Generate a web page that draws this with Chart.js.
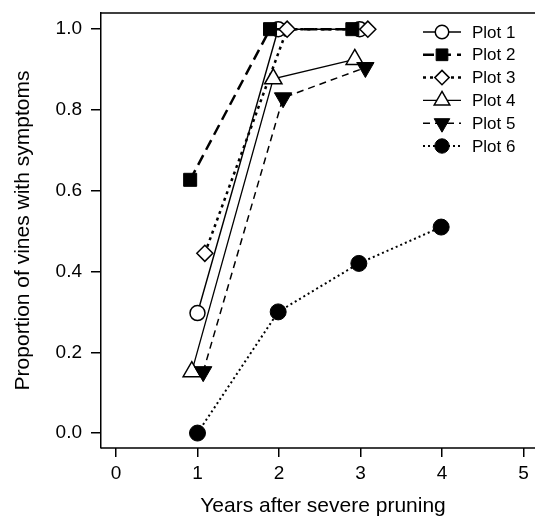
<!DOCTYPE html>
<html>
<head>
<meta charset="utf-8">
<script src="https://cdn.jsdelivr.net/npm/chart.js@4/dist/chart.umd.min.js"></script>
<style>
  body { margin: 0; background: #fff; overflow: hidden; }
  #wrap { width: 535px; height: 519px; overflow: hidden; }
  #myChart { display: block; }
</style>
</head>
<body>
<div id="wrap"><canvas id="myChart" width="545" height="519"></canvas></div>
<script>
// values (x is year, slightly offset per plot as in the figure)
const plotNames = ["Plot 1", "Plot 2", "Plot 3", "Plot 4", "Plot 5", "Plot 6"];
const plot1X = [1.00, 1.99, 2.99];
const plot1Y = [0.297, 1.0, 1.0];
const plot2X = [0.91, 1.89, 2.90];
const plot2Y = [0.627, 1.0, 1.0];
const plot3X = [1.09, 2.10, 3.09];
const plot3Y = [0.445, 1.0, 1.0];
const plot4X = [0.93, 1.93, 2.93];
const plot4Y = [0.152, 0.877, 0.925];
const plot5X = [1.07, 2.05, 3.06];
const plot5Y = [0.152, 0.83, 0.905];
const plot6X = [1.00, 1.99, 2.98, 3.99];
const plot6Y = [0.0, 0.30, 0.42, 0.51];

const xTicks = [0, 1, 2, 3, 4, 5];
const yTicks = [0.0, 0.2, 0.4, 0.6, 0.8, 1.0];

const FONT = "'Liberation Sans', Arial, Helvetica, sans-serif";
Chart.defaults.color = "#000";
Chart.defaults.font.family = FONT;

const toPts = (xs, ys) => xs.map((x, i) => ({ x: x, y: ys[i] }));

// marker + line style per plot
const styles = [
  { style: "circle",   rot: 0,   r: 7.5, fill: "#fff", lw: 1.5, dash: [],      bw: 1.5 },
  { style: "rect",     rot: 0,   r: 9.2, fill: "#000", lw: 2.5, dash: [11, 6], bw: 1 },
  { style: "rectRot",  rot: 0,   r: 8,   fill: "#fff", lw: 2.5, dash: [3, 4],  bw: 1.5 },
  { style: "triangle", rot: 0,   r: 10,  fill: "#fff", lw: 1.3, dash: [],      bw: 1.5 },
  { style: "triangle", rot: 180, r: 10,  fill: "#000", lw: 1.5, dash: [7, 5],  bw: 1 },
  { style: "circle",   rot: 0,   r: 8,   fill: "#000", lw: 2,   dash: [2, 3],  bw: 1 },
];

const allX = [plot1X, plot2X, plot3X, plot4X, plot5X, plot6X];
const allY = [plot1Y, plot2Y, plot3Y, plot4Y, plot5Y, plot6Y];

const datasets = plotNames.map((name, i) => {
  const s = styles[i];
  return {
    label: name,
    data: toPts(allX[i], allY[i]),
    showLine: true,
    borderColor: "#000",
    borderWidth: s.lw,
    borderDash: s.dash,
    backgroundColor: s.fill,
    pointStyle: s.style,
    pointRotation: s.rot,
    pointRadius: s.r,
    pointBorderWidth: s.bw,
    pointBackgroundColor: s.fill,
    pointBorderColor: "#000",
    order: plotNames.length - i,
  };
});

// top and bottom lines of the plot box; the box runs off the right edge of the window
const boxLines = {
  id: "boxLines",
  afterDraw(chart) {
    const { ctx, chartArea: { top, bottom, left, right } } = chart;
    ctx.save();
    ctx.strokeStyle = "#000";
    ctx.lineWidth = 1.5;
    ctx.setLineDash([]);
    ctx.beginPath();
    ctx.moveTo(left, top);
    ctx.lineTo(right, top);
    ctx.moveTo(left, bottom);
    ctx.lineTo(right, bottom);
    ctx.stroke();
    ctx.restore();
  },
};

// legend drawn by hand: line sample with the marker on it
const sampleLegend = {
  id: "sampleLegend",
  afterDraw(chart) {
    const ctx = chart.ctx;
    const x0 = 423, x1 = 461, xm = 442, xt = 472;
    let y = 32;
    ctx.save();
    chart.data.datasets.forEach((ds, i) => {
      const s = styles[i];
      ctx.strokeStyle = "#000";
      ctx.lineWidth = s.lw;
      ctx.setLineDash(s.dash);
      ctx.beginPath();
      ctx.moveTo(x0, y);
      ctx.lineTo(x1, y);
      ctx.stroke();
      ctx.setLineDash([]);
      ctx.fillStyle = s.fill;
      ctx.lineWidth = s.bw;
      Chart.helpers.drawPoint(ctx, { pointStyle: s.style, rotation: s.rot, radius: s.r * 0.9, borderWidth: s.bw }, xm, y);
      ctx.fillStyle = "#000";
      ctx.font = "17px " + FONT;
      ctx.textBaseline = "middle";
      ctx.textAlign = "left";
      ctx.fillText(ds.label, xt, y + 1);
      y += 22.8;
    });
    ctx.restore();
  },
};

new Chart(document.getElementById("myChart"), {
  type: "scatter",
  data: { datasets: datasets },
  options: {
    responsive: false,
    animation: false,
    events: [],
    layout: { autoPadding: false, padding: { top: 13, right: 0, left: 0, bottom: 0 } },
    plugins: {
      legend: { display: false },
      tooltip: { enabled: false },
    },
    scales: {
      x: {
        type: "linear",
        min: -0.184,
        max: 5.264,
        afterFit(scale) { scale.height = 71; scale.paddingLeft = 0; scale.paddingRight = 0; },
        afterBuildTicks(scale) { scale.ticks = xTicks.map(v => ({ value: v })); },
        border: { display: false },
        grid: { drawOnChartArea: false, drawTicks: true, tickLength: 9, color: "#000", lineWidth: 1.5 },
        ticks: { font: { size: 19 }, padding: 5, callback: v => String(v), maxRotation: 0 },
        title: { display: true, text: "Years after severe pruning", font: { size: 21 }, padding: { top: 0, bottom: 0 } },
      },
      y: {
        type: "linear",
        min: -0.037,
        max: 1.040,
        afterFit(scale) { scale.width = 101; scale.paddingTop = 0; scale.paddingBottom = 0; },
        afterBuildTicks(scale) { scale.ticks = yTicks.map(v => ({ value: v })); },
        border: { color: "#000", width: 1.5 },
        grid: { drawOnChartArea: false, drawTicks: true, tickLength: 10, color: "#000", lineWidth: 1.5 },
        ticks: { font: { size: 19 }, padding: 9, callback: v => v.toFixed(1) },
        title: { display: true, text: "Proportion of vines with symptoms", font: { size: 21 }, padding: { top: 11, bottom: 0 } },
      },
    },
  },
  plugins: [boxLines, sampleLegend],
});
</script>
</body>
</html>
